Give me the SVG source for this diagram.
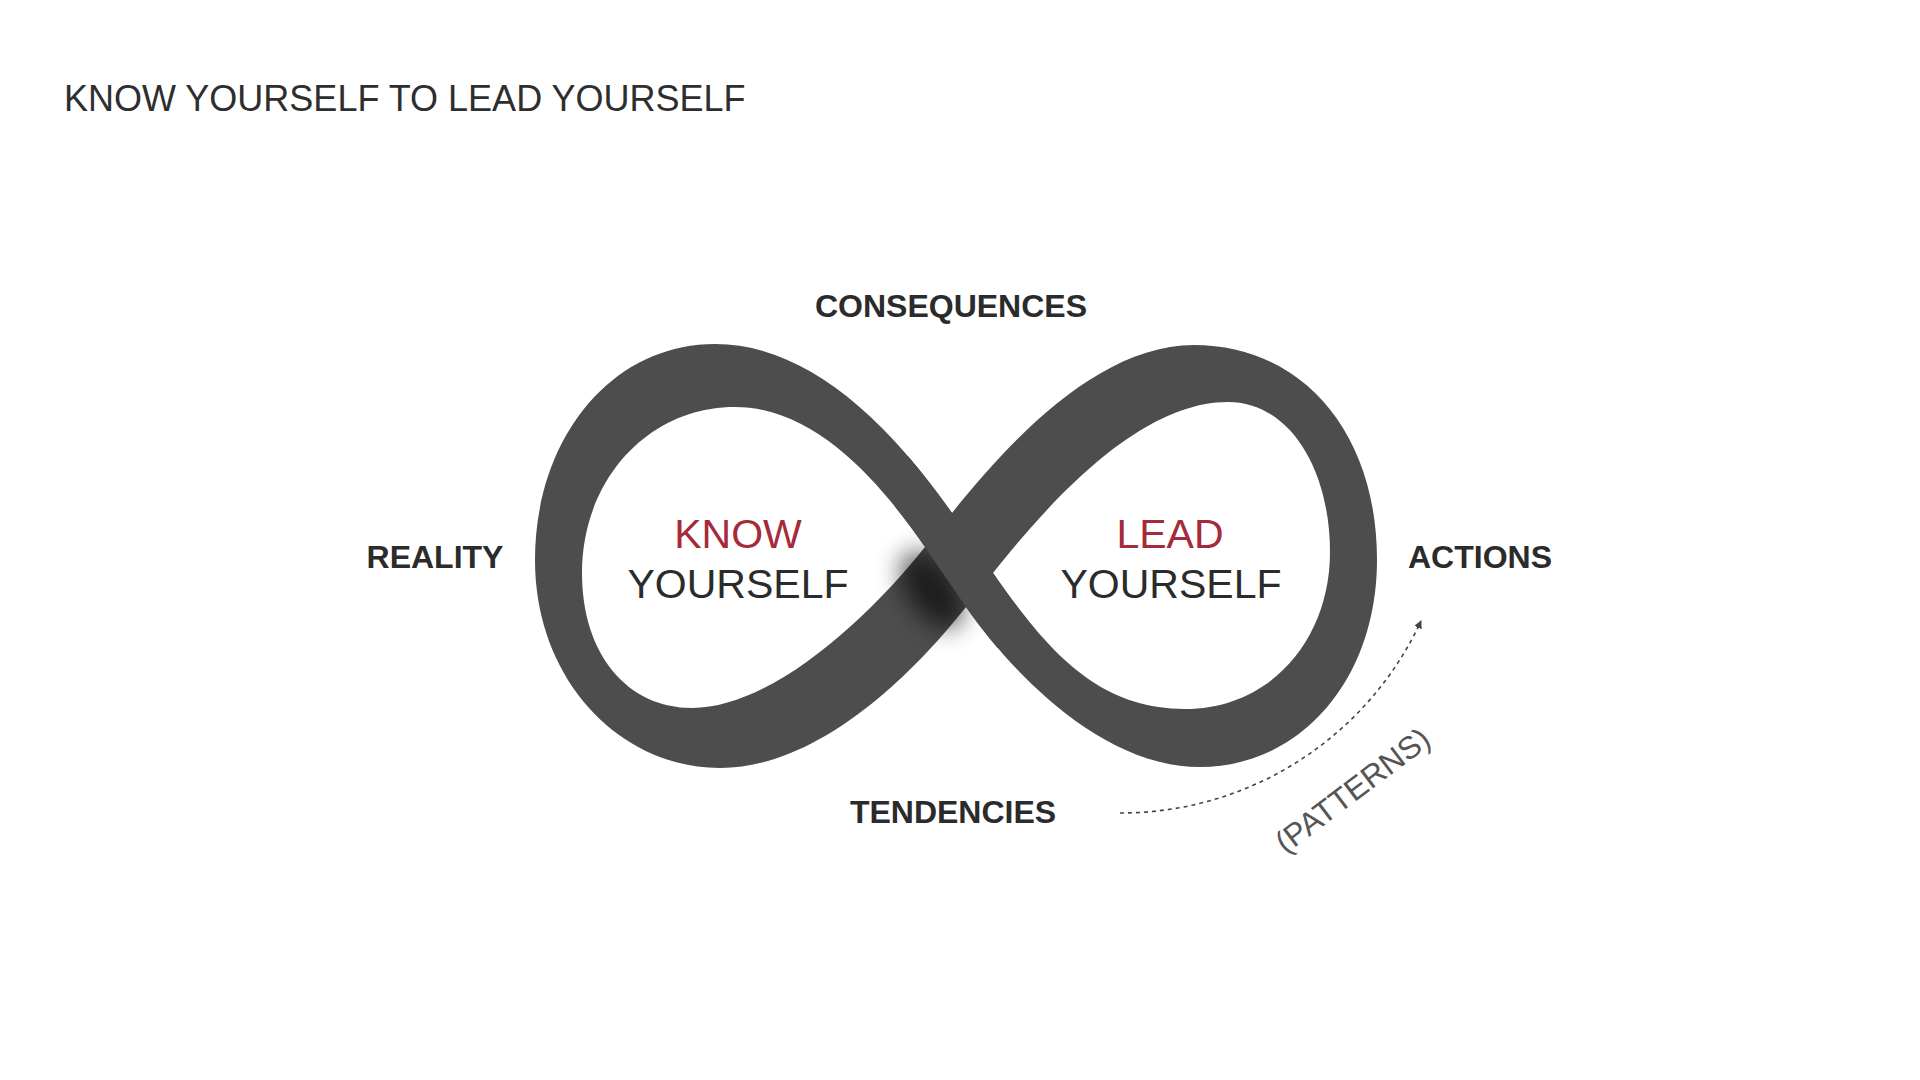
<svg xmlns="http://www.w3.org/2000/svg" width="1920" height="1080" viewBox="0 0 1920 1080">
  <style>
    .title { font-family: "Liberation Sans", Arial, sans-serif; font-size: 36px; fill: #2e2e2e; }
    .lbl { font-family: "Liberation Sans", Arial, sans-serif; font-size: 32px; font-weight: bold; fill: #2b2b2b; text-anchor: middle; }
    .red { font-family: "Liberation Sans", Arial, sans-serif; font-size: 41px; fill: #a52a3a; text-anchor: middle; }
    .dark { font-family: "Liberation Sans", Arial, sans-serif; font-size: 41px; fill: #2b2b2b; text-anchor: middle; }
    .pat { font-family: "Liberation Sans", Arial, sans-serif; font-size: 31.5px; fill: #555555; text-anchor: middle; }
    .band { fill: #4d4d4d; }
    .conn { fill: none; stroke: #444444; stroke-width: 1.6; stroke-dasharray: 4 4; }
  </style>
  <defs>
    <filter id="blur" x="-100%" y="-100%" width="300%" height="300%">
      <feGaussianBlur stdDeviation="12"/>
    </filter>
    <marker id="arrow" viewBox="0 0 10 10" refX="9" refY="5" markerWidth="8" markerHeight="8" markerUnits="userSpaceOnUse" orient="auto">
      <path d="M0,0 L10,5 L0,10 z" fill="#444444"/>
    </marker>
  </defs>
  <rect width="1920" height="1080" fill="#ffffff"/>

  <g id="title">
    <text class="title" x="64" y="111">KNOW YOURSELF TO LEAD YOURSELF</text>
  </g>

  <g id="infinity">
    <path class="band" fill-rule="evenodd" d="
      M 952,513 C 880,410 800,344 715,344 C 610,344 535,440 535,560 C 535,680 620,768 720,768 C 810,768 900,690 966,607
      C 1010,670 1100,767 1200,767 C 1300,767 1377,680 1377,560 C 1377,430 1300,345 1194,345 C 1100,345 1012,438 952,513 Z
      M 925,547 C 880,482 815,407 735,407 C 648,407 582,480 582,573 C 582,655 628,708 692,708 C 770,708 865,622 925,547 Z
      M 993,573 C 1051,500 1140,402 1228,402 C 1290,402 1330,470 1330,552 C 1330,640 1270,709 1185,709 C 1100,709 1050,655 993,573 Z"/>
    <ellipse cx="932" cy="590" rx="24" ry="44" fill="#000000" opacity="0.62" filter="url(#blur)" transform="rotate(-34.3 932 590)"/>
    <path class="band" d="M 895.6,507.5 C 906.2,520.6 916,534 925,547 L 966,607 C 974.8,619.6 985.4,633.6 997.6,647.9 L 1026.7,618.6 C 1015.5,604.7 1004.4,589.4 993,573 L 952,513 C 937.6,492.4 922.9,473.3 907.9,455.9 Z"/>
  </g>

  <g id="know-yourself">
    <text class="red" x="738" y="548">KNOW</text>
    <text class="dark" x="738" y="598">YOURSELF</text>
  </g>
  <g id="lead-yourself">
    <text class="red" x="1170" y="548">LEAD</text>
    <text class="dark" x="1171" y="598">YOURSELF</text>
  </g>

  <g id="consequences"><text class="lbl" x="951" y="317">CONSEQUENCES</text></g>
  <g id="reality"><text class="lbl" x="435" y="568">REALITY</text></g>
  <g id="actions"><text class="lbl" x="1480" y="568">ACTIONS</text></g>
  <g id="tendencies"><text class="lbl" x="953" y="823">TENDENCIES</text></g>

  <g id="connectors">
    <path class="conn" d="M 1120,813 A 331,331 0 0 0 1421,621" marker-end="url(#arrow)"/>
  </g>

  <g id="patterns">
    <text class="pat" transform="translate(1359,799) rotate(-37)" x="0" y="0">(PATTERNS)</text>
  </g>
</svg>
